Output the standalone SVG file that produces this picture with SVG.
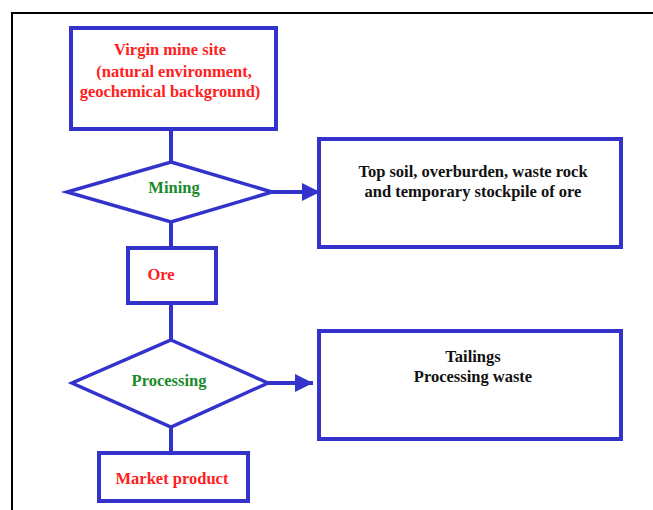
<svg xmlns="http://www.w3.org/2000/svg" width="653" height="510" viewBox="0 0 653 510">
<style>
.box{fill:#fff;stroke:#3333cc;stroke-width:4}
.dia{fill:#fff;stroke:#3333cc;stroke-width:3.5}
.con{fill:none;stroke:#3333cc;stroke-width:4}
text{font-family:"Liberation Serif","Times New Roman",serif;font-weight:bold;font-size:16.5px;text-anchor:middle}
.red{fill:#ff2020}
.grn{fill:#1a8a2a}
.blk{fill:#111}
</style>
<defs>
<marker id="ah" markerUnits="userSpaceOnUse" markerWidth="20" markerHeight="20" refX="18" refY="10" orient="auto">
<path d="M0,1 L18,10 L0,19 Z" fill="#3333cc"/>
</marker>
</defs>
<rect x="12" y="13" width="660" height="520" fill="none" stroke="#000" stroke-width="2"/>
<g id="connectors">
<line class="con" x1="171" y1="130" x2="171" y2="162"/>
<line class="con" x1="171" y1="222" x2="171" y2="248"/>
<line class="con" x1="171" y1="303" x2="171" y2="340"/>
<line class="con" x1="171" y1="427" x2="171" y2="452"/>
<line class="con" x1="272" y1="192" x2="320" y2="192" marker-end="url(#ah)"/>
<line class="con" x1="268" y1="383" x2="313" y2="383" marker-end="url(#ah)"/>
</g>
<g id="virgin">
<rect class="box" x="71" y="28" width="205" height="101"/>
<text class="red" x="170" y="55">Virgin mine site</text>
<text class="red" x="174" y="77">(natural environment,</text>
<text class="red" x="170" y="97">geochemical background)</text>
</g>
<g id="mining">
<polygon class="dia" points="171,162 272,192 171,222 67,192"/>
<text class="grn" x="174" y="193">Mining</text>
</g>
<g id="waste1">
<rect class="box" x="319" y="139" width="302" height="108"/>
<text class="blk" x="473" y="177">Top soil, overburden, waste rock</text>
<text class="blk" x="473" y="197">and temporary stockpile of ore</text>
</g>
<g id="ore">
<rect class="box" x="128" y="248" width="88" height="55"/>
<text class="red" x="161" y="280">Ore</text>
</g>
<g id="processing">
<polygon class="dia" points="171,340 268,383 171,427 72,383"/>
<text class="grn" x="169" y="386">Processing</text>
</g>
<g id="waste2">
<rect class="box" x="319" y="331" width="302" height="108"/>
<text class="blk" x="473" y="362">Tailings</text>
<text class="blk" x="473" y="382">Processing waste</text>
</g>
<g id="market">
<rect class="box" x="99" y="453" width="149" height="48"/>
<text class="red" x="172" y="484">Market product</text>
</g>
</svg>
